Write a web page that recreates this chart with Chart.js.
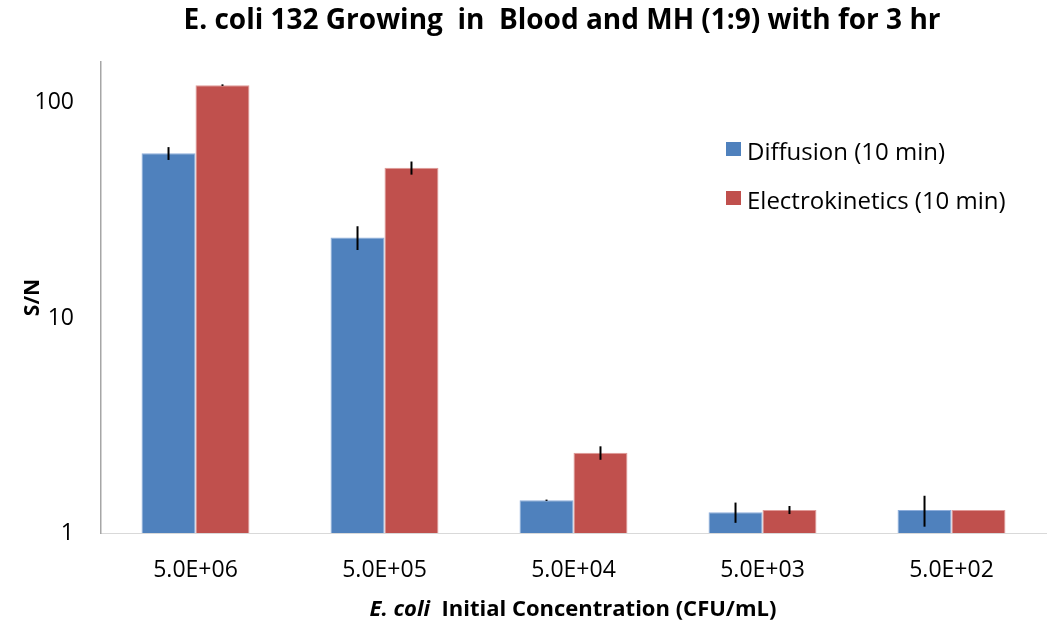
<!DOCTYPE html>
<html lang="en">
<head>
    <meta charset="UTF-8">
    <title>E. coli 132 Growing in Blood and MH</title>
    <style>
        body {
            margin: 0;
            background: #fff;
            font-family: "Open Sans", Arial, sans-serif;
        }

        #wrap {
            position: relative;
            width: 1050px;
            height: 625px;
        }

        #chart-title {
            position: absolute;
            top: -1px;
            left: 62px;
            width: 1000px;
            text-align: center;
            font-size: 28px;
            font-weight: bold;
            white-space: pre;
        }

        #x-title {
            position: absolute;
            top: 594px;
            left: 100px;
            width: 946px;
            text-align: center;
            font-size: 22px;
            font-weight: bold;
            white-space: pre;
            line-height: 1.2;
        }

        /* legend sits inside the plot on the right */
        #legend {
            position: absolute;
            left: 726px;
            top: 134px;
            font-size: 24px;
        }

        #legend div {
            height: 49px;
            display: flex;
            align-items: flex-start;
        }

        #legend span.box {
            display: inline-block;
            width: 15px;
            height: 14px;
            margin-top: 8px;
            margin-right: 6px;
        }
    </style>
    <script src="https://cdn.jsdelivr.net/npm/chart.js"></script>
</head>
<body>
<div id="wrap">
    <canvas id="sn-chart" width="1050" height="625"></canvas>
    <div id="chart-title">E. coli 132 Growing  in  Blood and MH (1:9) with for 3 hr</div>
    <div id="x-title"><i>E. coli</i>  Initial Concentration (CFU/mL)</div>
    <div id="legend"></div>
</div>

<script>
    // data
    const concentrations = ['5.0E+06', '5.0E+05', '5.0E+04', '5.0E+03', '5.0E+02'];
    const diffusion = [58.3, 23.7, 1.42, 1.25, 1.28];
    const diffusionErr = [4, 3, 0.01, 0.135, 0.21];
    const electro = [121, 49.9, 2.36, 1.28, 1.28];
    const electroErr = [1, 3.5, 0.17, 0.055, 0];
    const yTicks = [1, 10, 100];

    const blue = '#4F81BD';
    const red = '#C0504D';

    // draw the error bars at each bar's x, using the y scale
    const errorBars = {
        id: 'errorBars',
        afterDatasetsDraw(chart) {
            const ctx = chart.ctx;
            const y = chart.scales.y;
            const errs = [diffusionErr, electroErr];
            ctx.save();
            ctx.strokeStyle = '#000';
            ctx.lineWidth = 2;
            chart.data.datasets.forEach((ds, i) => {
                const meta = chart.getDatasetMeta(i);
                meta.data.forEach((bar, j) => {
                    const e = errs[i][j];
                    if (!e) return;
                    const v = ds.data[j];
                    ctx.beginPath();
                    ctx.moveTo(bar.x, y.getPixelForValue(v + e));
                    ctx.lineTo(bar.x, y.getPixelForValue(v - e));
                    ctx.stroke();
                });
            });
            ctx.restore();
        }
    };

    const chart = new Chart(document.getElementById('sn-chart'), {
        type: 'bar',
        data: {
            labels: concentrations,
            datasets: [
                {
                    label: 'Diffusion (10 min)',
                    data: diffusion,
                    backgroundColor: blue,
                    borderColor: '#8eaedb',
                    borderWidth: 1
                },
                {
                    label: 'Electrokinetics (10 min)',
                    data: electro,
                    backgroundColor: red,
                    borderColor: '#e09a98',
                    borderWidth: 1
                }
            ]
        },
        options: {
            responsive: false,
            animation: false,
            layout: {
                padding: { top: 62, right: 4, left: 0, bottom: 0 }
            },
            datasets: {
                bar: {
                    categoryPercentage: 0.571,
                    barPercentage: 1.0
                }
            },
            scales: {
                x: {
                    grid: { display: false, drawTicks: false },
                    border: { color: '#d9d9d9', width: 1 },
                    ticks: {
                        color: '#000',
                        padding: 24,
                        font: { family: 'Open Sans', size: 23 }
                    },
                    afterFit(scale) { scale.height = 92; }
                },
                y: {
                    type: 'logarithmic',
                    min: 1,
                    max: 155,
                    grid: { display: false, drawTicks: false },
                    border: { color: '#a6a6a6', width: 1.5 },
                    afterBuildTicks(scale) {
                        scale.ticks = yTicks.map(v => ({ value: v }));
                    },
                    ticks: {
                        color: '#000',
                        padding: 27,
                        font: { family: 'Open Sans', size: 23 },
                        callback: v => String(v)
                    },
                    title: {
                        display: true,
                        text: 'S/N',
                        color: '#000',
                        font: { family: 'Open Sans', size: 21, weight: 'bold' },
                        padding: { top: 20, bottom: 0 }
                    },
                    afterFit(scale) { scale.width = 101; }
                }
            },
            plugins: {
                legend: { display: false },
                tooltip: { enabled: false }
            }
        },
        plugins: [errorBars]
    });

    // legend built from the datasets
    const legend = document.getElementById('legend');
    chart.data.datasets.forEach(ds => {
        const row = document.createElement('div');
        row.innerHTML = '<span class="box" style="background:' + ds.backgroundColor + '"></span>' + ds.label;
        legend.appendChild(row);
    });
</script>
</body>
</html>
